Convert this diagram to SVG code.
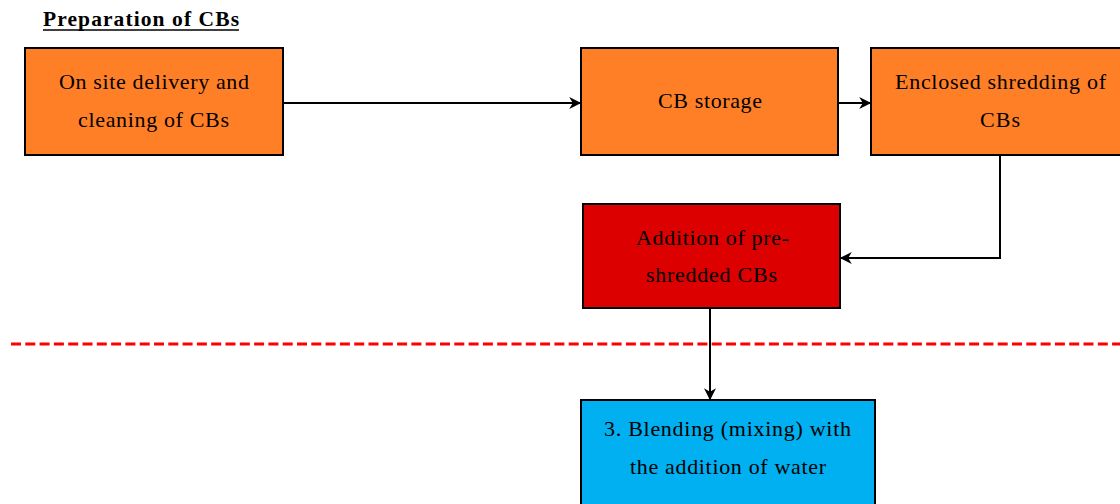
<svg xmlns="http://www.w3.org/2000/svg" width="1120" height="504" viewBox="0 0 1120 504">
<style>
.box{stroke:#000;stroke-width:2}
.o{fill:#FF7F27}
.t{font-family:"Liberation Serif","Times New Roman",serif;font-size:22px;fill:#000}
.c{stroke:#000;stroke-width:2;fill:none}
</style>
<defs>
<marker id="ah" viewBox="0 0 10 10" refX="9" refY="5" markerWidth="13" markerHeight="12" orient="auto" markerUnits="userSpaceOnUse">
<path d="M0,0 L10,5 L0,10 L3,5 Z" fill="#000"/>
</marker>
</defs>
<rect width="1120" height="504" fill="#fff"/>
<g id="title">
<text x="43" y="26" font-family="Liberation Serif, serif" font-size="21.5" font-weight="bold" textLength="196" lengthAdjust="spacing">Preparation of CBs</text>
<line x1="43" y1="30" x2="239" y2="30" stroke="#000" stroke-width="1.5"/>
</g>
<line x1="11" y1="344" x2="1120" y2="344" stroke="#FF0000" stroke-width="3" stroke-dasharray="10,4.3"/>
<g id="connectors">
<line class="c" x1="283" y1="103" x2="580" y2="103" marker-end="url(#ah)"/>
<line class="c" x1="838" y1="103" x2="870" y2="103" marker-end="url(#ah)"/>
<polyline class="c" points="1000,155 1000,258 841,258" marker-end="url(#ah)"/>
<line class="c" x1="710" y1="308" x2="710" y2="399" marker-end="url(#ah)"/>
</g>
<g id="n1">
<rect class="box o" x="25" y="48" width="258" height="107"/>
<text class="t" x="59" y="89" textLength="190" lengthAdjust="spacing">On site delivery and</text>
<text class="t" x="78" y="127" textLength="151" lengthAdjust="spacing">cleaning of CBs</text>
</g>
<g id="n2">
<rect class="box o" x="581" y="48" width="257" height="107"/>
<text class="t" x="658" y="108" textLength="104" lengthAdjust="spacing">CB storage</text>
</g>
<g id="n3">
<rect class="box o" x="871" y="48" width="260" height="107"/>
<text class="t" x="895" y="89" textLength="211" lengthAdjust="spacing">Enclosed shredding of</text>
<text class="t" x="980" y="127" textLength="40" lengthAdjust="spacing">CBs</text>
</g>
<g id="n4">
<rect class="box" fill="#DD0000" x="583" y="204" width="257" height="104"/>
<text class="t" x="636" y="245" textLength="153" lengthAdjust="spacing">Addition of pre-</text>
<text class="t" x="646" y="282" textLength="131" lengthAdjust="spacing">shredded CBs</text>
</g>
<g id="n5">
<rect class="box" fill="#00B0F0" x="581" y="400" width="294" height="110"/>
<text class="t" x="604" y="436" textLength="247" lengthAdjust="spacing">3. Blending (mixing) with</text>
<text class="t" x="630" y="474" textLength="196" lengthAdjust="spacing">the addition of water</text>
</g>
</svg>
